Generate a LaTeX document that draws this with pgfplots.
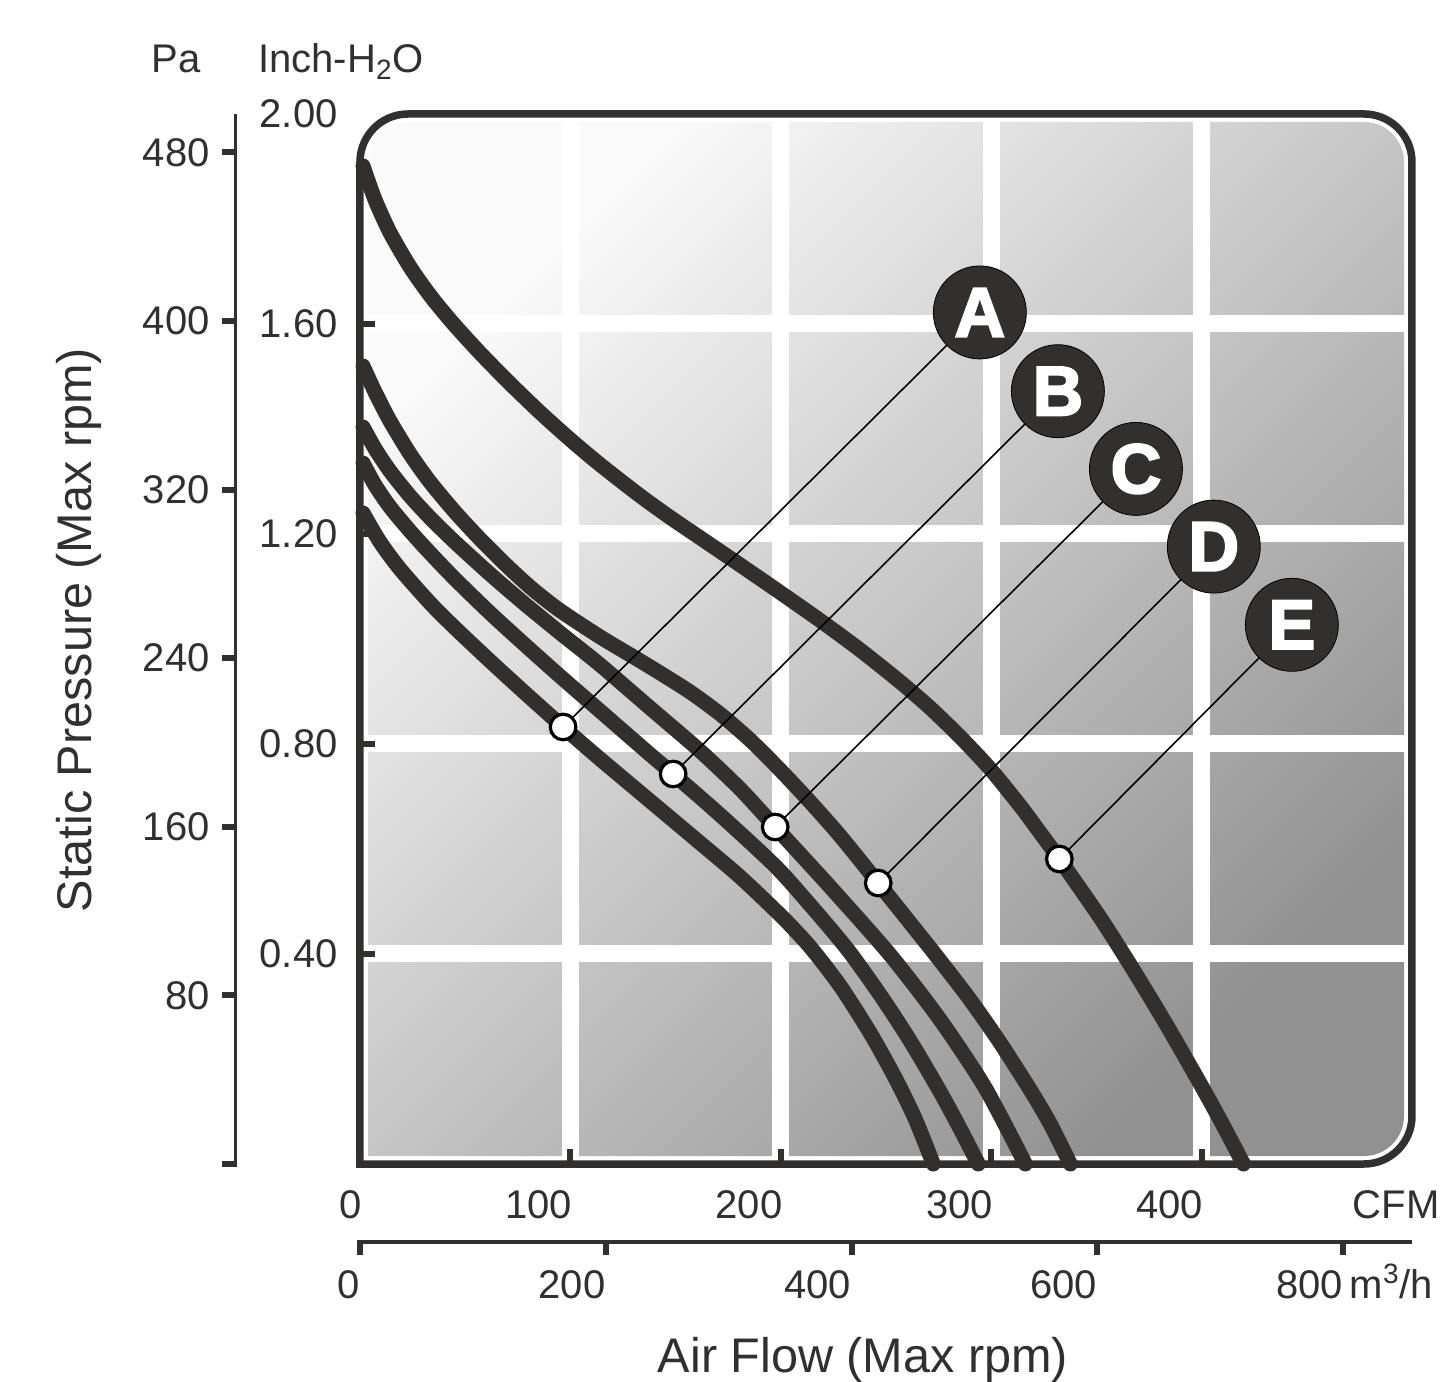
\documentclass[border=0pt]{standalone}
\usepackage{pgfplots}
\pgfplotsset{compat=1.18}
\usepackage{fontspec}
\setmainfont{Liberation Sans}
\newfontfamily\heavyfont{Liberation Sans}[FakeBold=3]
\definecolor{dark}{RGB}{50,48,47}
\definecolor{bgTL}{RGB}{250,250,250}
\definecolor{bgBR}{RGB}{145,145,145}
\newcommand{\tickfont}{\fontsize{20}{24}\selectfont}
\newcommand{\titlefont}{\fontsize{24.3}{29}\selectfont}
\newcommand{\labelfont}{\heavyfont\bfseries\fontsize{35}{40}\selectfont}
\pgfplotsset{
  fancurve/.style={dark, line width=7.5pt, line cap=round, line join=round, smooth, tension=0.45},
  leader/.style={black, line width=0.8pt},
  letter/.style={white, only marks, mark=text, text mark={#1}, text mark as node=true,
     text mark style={font=\labelfont, text=white, inner sep=0pt, anchor=center}},
}

\begin{document}
\begin{tikzpicture}
% gradient tiles background (inside the rounded frame)
\shade[shading=axis, top color=bgTL, bottom color=bgBR, shading angle=45]
  (4pt,4pt) -- (4pt,501pt) arc[start angle=180,end angle=90,radius=20pt]
  -- (502pt,521pt) arc[start angle=90,end angle=0,radius=20pt]
  -- (522pt,24pt) arc[start angle=0,end angle=-90,radius=20pt] -- cycle;

% ---------- main axis: CFM / Inch-H2O ----------
\begin{axis}[
  at={(0pt,0pt)}, anchor=south west,
  scale only axis, width=526pt, height=525pt,
  xmin=0, xmax=500, ymin=0, ymax=2,
  clip=false,
  axis line style={draw=none},
  xtick={100,200,300,400}, xticklabels={100,200,300,400},
  extra x ticks={0}, extra x tick labels={0},
  extra x tick style={grid=none, major tick length=0pt},
  ytick={0.4,0.8,1.2,1.6}, yticklabels={0.40,0.80,1.20,1.60},
  extra y ticks={2}, extra y tick labels={2.00},
  extra y tick style={grid=none, major tick length=0pt},
  xtick pos=bottom, ytick pos=left, tick align=inside,
  major tick length=7.5pt,
  tick style={dark, line width=3pt},
  grid=major, major grid style={white, line width=8.5pt},
  tick label style={font=\tickfont, text=dark, inner sep=0pt},
  xticklabel style={anchor=north east, yshift=-13pt, xshift=1pt},
  yticklabel style={anchor=east, xshift=-11pt},
]
% rounded frame
\draw[dark, line width=3.75pt] (rel axis cs:0,0)
  -- ([yshift=-24pt]rel axis cs:0,1) arc[start angle=180,end angle=90,radius=24pt]
  -- ([xshift=-24pt]rel axis cs:1,1) arc[start angle=90,end angle=0,radius=24pt]
  -- ([yshift=24pt]rel axis cs:1,0) arc[start angle=0,end angle=-90,radius=24pt]
  -- cycle;

% curve E
\addplot[fancurve] coordinates {
(1.43,1.9010) (7.13,1.8369) (14.27,1.7741) (23.78,1.7086) (33.29,1.6545) (43.75,1.6034)
(57.06,1.5448) (71.33,1.4865) (85.59,1.4316) (99.86,1.3802) (114.12,1.3322) (133.14,1.2728)
(147.41,1.2316) (161.67,1.1928) (180.69,1.1410) (199.71,1.0886) (218.74,1.0352) (237.76,0.9790)
(256.78,0.9181) (271.04,0.8686) (285.31,0.8133) (299.57,0.7524) (313.84,0.6819) (323.35,0.6305)
(332.38,0.5810) (351.88,0.4686) (367.57,0.3695) (382.79,0.2686) (399.43,0.1524) (409.89,0.0762)
(419.88,0)};
% curve D
\addplot[fancurve] coordinates {
(1.43,1.5200) (7.13,1.4705) (14.27,1.4152) (23.78,1.3524) (33.29,1.2990) (45.17,1.2419)
(57.06,1.1905) (68.95,1.1429) (80.84,1.0990) (92.72,1.0610) (104.61,1.0286) (116.50,0.9981)
(129.34,0.9676) (142.65,0.9352) (156.92,0.8990) (171.18,0.8571) (185.45,0.8076) (199.71,0.7505)
(213.98,0.6895) (228.24,0.6248) (246.31,0.5352) (261.53,0.4590) (274.37,0.3943) (290.06,0.3124)
(304.33,0.2305) (318.59,0.1410) (328.10,0.0762) (337.61,0)};
% curve C
\addplot[fancurve] coordinates {
(1.43,1.4038) (7.13,1.3627) (14.27,1.3198) (23.78,1.2722) (33.29,1.2310) (45.17,1.1844)
(61.82,1.1236) (78.46,1.0663) (96.05,1.0086) (114.12,0.9507) (137.90,0.8686) (161.67,0.7867)
(180.69,0.7143) (197.34,0.6419) (223.49,0.5276) (252.02,0.3981) (275.80,0.2743) (297.19,0.1448)
(316.21,0)};
% curve B
\addplot[fancurve] coordinates {
(1.43,1.3352) (7.13,1.2933) (14.27,1.2514) (23.78,1.2057) (33.29,1.1638) (45.17,1.1143)
(61.82,1.0495) (78.46,0.9886) (96.05,0.9257) (114.12,0.8629) (137.90,0.7800) (148.83,0.7429)
(171.18,0.6648) (197.34,0.5676) (213.98,0.4933) (231.57,0.4095) (247.27,0.3219) (261.53,0.2343)
(275.80,0.1371) (285.31,0.0667) (293.87,0)};
% curve A
\addplot[fancurve] coordinates {
(1.43,1.2400) (9.51,1.1848) (19.02,1.1333) (33.29,1.0686) (45.17,1.0210) (61.82,0.9581)
(78.46,0.8971) (96.53,0.8324) (114.12,0.7714) (137.90,0.6914) (161.67,0.6114) (180.69,0.5467)
(200.67,0.4705) (213.98,0.4133) (228.24,0.3390) (242.51,0.2495) (254.40,0.1638) (263.91,0.0857)
(272.47,0)};

% leader lines
\addplot[leader] coordinates {(96.53,0.8324) (294.6,1.622)};
\addplot[leader] coordinates {(148.83,0.7429) (331.7,1.472)};
\addplot[leader] coordinates {(197.34,0.6419) (368.8,1.324)};
\addplot[leader] coordinates {(246.31,0.5352) (405.8,1.176)};
\addplot[leader] coordinates {(332.38,0.5810) (442.9,1.027)};

% operating-point markers
\addplot[only marks, mark=*, mark size=6.4pt,
  mark options={fill=white, draw=black, line width=1.6pt}] coordinates {
(96.53,0.8324) (148.83,0.7429) (197.34,0.6419) (246.31,0.5352) (332.38,0.5810)};

% label discs
\addplot[only marks, mark=*, mark size=23.25pt,
  mark options={fill=dark, draw=none}] coordinates {
(294.6,1.622) (331.7,1.472) (368.8,1.324) (405.8,1.176) (442.9,1.027)};
\addplot[letter=A] coordinates {(294.6,1.622)};
\addplot[letter=B] coordinates {(331.7,1.472)};
\addplot[letter=C] coordinates {(368.8,1.324)};
\addplot[letter=D] coordinates {(405.8,1.176)};
\addplot[letter=E] coordinates {(442.9,1.027)};
\end{axis}

% ---------- Pa axis ----------
\begin{axis}[
  at={(-69pt,0pt)}, anchor=south west,
  scale only axis, width=7.5pt, height=525pt,
  xmin=0, xmax=1, ymin=0, ymax=498.18,
  axis line style={draw=none}, xtick=\empty,
  ytick={0,80,160,240,320,400,480}, yticklabels={,80,160,240,320,400,480},
  ytick pos=right, yticklabel pos=left, tick align=inside,
  major tick length=7.5pt,
  tick style={dark, line width=3pt},
  tick label style={font=\tickfont, text=dark, inner sep=0pt},
  yticklabel style={anchor=east, xshift=-6pt},
]
\draw[dark, line width=3pt] (rel axis cs:1,0) -- (rel axis cs:1,1);
\end{axis}

% ---------- m3/h axis ----------
\begin{axis}[
  at={(0pt,-45.5pt)}, anchor=south west,
  scale only axis, width=526pt, height=7.5pt,
  xmin=0, xmax=856, ymin=0, ymax=1,
  axis line style={draw=none}, ytick=\empty,
  xtick={0,200,400,600,800},
  xticklabels={0,200,400,600,{800\smash{\rlap{\kern3.5pt m\textsuperscript{3}/h}}}},
  xtick pos=top, xticklabel pos=bottom, tick align=inside,
  major tick length=7.5pt,
  tick style={dark, line width=3pt},
  tick label style={font=\tickfont, text=dark, inner sep=0pt},
  xticklabel style={anchor=north east, yshift=-7.5pt, xshift=0pt},
]
\draw[dark, line width=3.5pt] (rel axis cs:0,1) -- (rel axis cs:1,1);
\end{axis}

% ---------- texts ----------
\node[anchor=north east, inner sep=0pt, font=\tickfont, text=dark] at (540pt,-13pt) {CFM};
\node[anchor=base, inner sep=0pt, font=\tickfont, text=dark] at (-92pt,545.5pt) {Pa};
\node[anchor=base west, inner sep=0pt, font=\tickfont, text=dark] at (-51pt,545.5pt) {Inch-H\textsubscript{2}O};
\node[rotate=90, anchor=base, inner sep=0pt, font=\titlefont, text=dark] at (-134pt,267pt) {Static Pressure (Max rpm)};
\node[anchor=base, inner sep=0pt, font=\titlefont, text=dark] at (251.5pt,-104pt) {Air Flow (Max rpm)};

\pgfresetboundingbox
\useasboundingbox (-180pt,-109pt) rectangle (540.5pt,582pt);
\end{tikzpicture}
\end{document}
